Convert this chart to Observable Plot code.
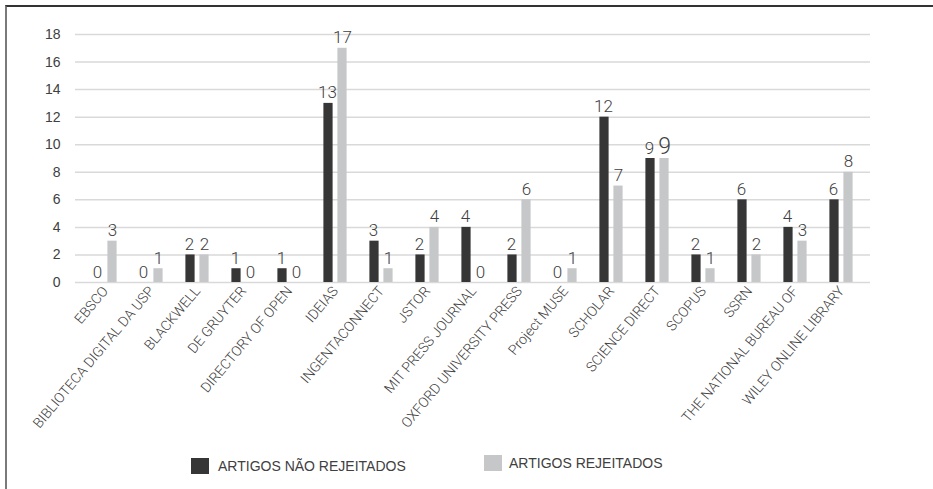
<!DOCTYPE html>
<html>
<head>
<meta charset="utf-8">
<script src="https://cdn.jsdelivr.net/npm/d3@7"></script>
<script src="https://cdn.jsdelivr.net/npm/@observablehq/plot@0.6"></script>
<style>
  html, body { margin: 0; padding: 0; background: #fff; }
  #wrap { position: relative; width: 933px; height: 489px; overflow: hidden; font-family: "Liberation Sans", Arial, sans-serif; }
  #frame { position: absolute; left: 5px; top: 5px; width: 940px; height: 500px; border-left: 2px solid #7a7a7a; border-top: 2px solid #333; box-sizing: border-box; }
  #chart { position: absolute; left: 0; top: 0; }
  .legend { position: absolute; top: 458px; display: flex; align-items: center; font-size: 14px; color: #404040; }
  .sw { width: 18px; height: 16px; margin-right: 9px; }
</style>
</head>
<body>
<div id="wrap">
  <div id="frame"></div>
  <div id="chart"></div>
  <div class="legend" style="left:191px"><span class="sw" style="background:#363636"></span>ARTIGOS NÃO REJEITADOS</div>
  <div class="legend" style="left:484px; top:455px"><span class="sw" style="background:#c6c7c9; margin-right:7px"></span>ARTIGOS REJEITADOS</div>
</div>
<script>
const categories = ["EBSCO","BIBLIOTECA DIGITAL DA USP","BLACKWELL","DE GRUYTER","DIRECTORY OF OPEN","IDEIAS","INGENTACONNECT","JSTOR","MIT PRESS JOURNAL","OXFORD UNIVERSITY PRESS","Project MUSE","SCHOLAR","SCIENCE DIRECT","SCOPUS","SSRN","THE NATIONAL BUREAU OF","WILEY ONLINE LIBRARY"];
const naoRejeitados = [0,0,2,1,1,13,3,2,4,2,0,12,9,2,6,4,6];
const rejeitados = [3,1,2,0,0,17,1,4,0,6,1,7,9,1,2,3,8];
const yTicks = [0,2,4,6,8,10,12,14,16,18];

const dark = "#363636", light = "#c6c7c9";
const dNR = categories.map((c, i) => ({cat: c, v: naoRejeitados[i]}));
const dR = categories.map((c, i) => ({cat: c, v: rejeitados[i]}));
const numFont = "Roboto, 'Liberation Sans', sans-serif";

const chart = Plot.plot({
  width: 933,
  height: 440,
  marginLeft: 75,
  marginRight: 63,
  marginTop: 34,
  marginBottom: 158,
  x: {domain: categories, padding: 0, label: null},
  y: {domain: [0, 18], label: null},
  style: {fontFamily: "'Liberation Sans', Arial, sans-serif", color: "#404040", background: "transparent", overflow: "visible"},
  marks: [
    Plot.gridY(yTicks, {stroke: "#d9d9d9", strokeOpacity: 1, strokeWidth: 1.5}),
    Plot.axisY(yTicks, {tickSize: 0, tickPadding: 15, fontSize: 14, label: null}),
    Plot.axisX({tickRotate: -50, tickSize: 0, tickPadding: 6, dx: 0, fontSize: 14, fontWeight: 300, fontFamily: numFont, label: null}),
    Plot.barY(dNR, {x: "cat", y: "v", fill: dark, insetLeft: 11.4, insetRight: 25.4}),
    Plot.barY(dR, {x: "cat", y: "v", fill: light, insetLeft: 25.4, insetRight: 11.4}),
    Plot.text(dNR, {x: "cat", y: "v", text: d => String(d.v), dx: -8, dy: -5, lineAnchor: "bottom", fontSize: 17, fontWeight: 300, fontFamily: numFont, fill: "#404040"}),
    Plot.text(dR, {x: "cat", y: "v", text: d => String(d.v), dx: 7, dy: -5, lineAnchor: "bottom", fontSize: d => d.cat === "SCIENCE DIRECT" ? 23 : 17, fontWeight: 300, fontFamily: numFont, fill: "#404040"})
  ]
});
document.getElementById("chart").appendChild(chart);
</script>
</body>
</html>
